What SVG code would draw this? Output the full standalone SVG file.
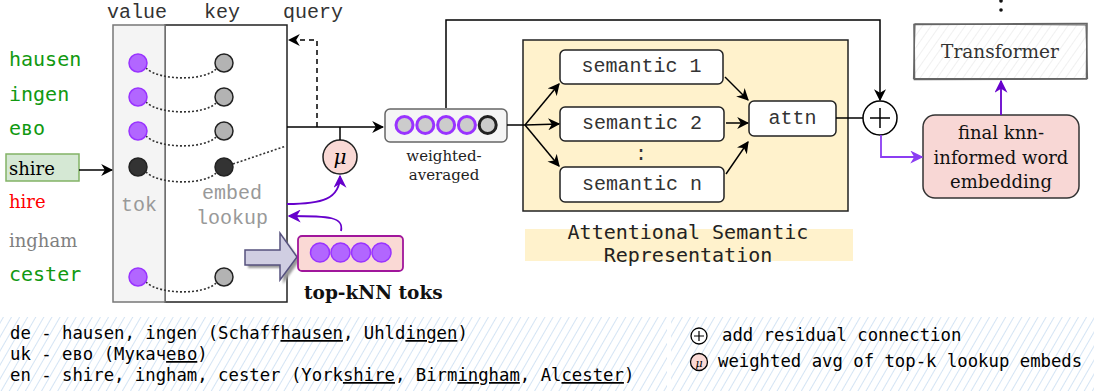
<svg xmlns="http://www.w3.org/2000/svg" width="1094" height="391" viewBox="0 0 1094 391">
  <style>
    .mono { font-family: "Liberation Mono", "Courier New", monospace; font-size: 20px; fill: #333; }
    .smono { font-family: "DejaVu Sans Mono", monospace; }
    .serif { font-family: "DejaVu Serif", serif; }
    .tok { font-family: "DejaVu Sans Mono", monospace; font-size: 20px; fill: #119911; }
    .vcirc { fill: #b266ff; stroke: #9933ff; stroke-width: 1.5; }
    .kcirc { fill: #b3b3b3; stroke: #222; stroke-width: 1.5; }
    .dark { fill: #333; stroke: #222; stroke-width: 1.5; }
    .dots { fill: none; stroke: #333; stroke-width: 1.6; stroke-dasharray: 2 2; }
    .ln { fill: none; stroke: #000; stroke-width: 1.5; }
    .pl { fill: none; stroke: #6600cc; stroke-width: 1.8; }
    .sem { fill: #fff; stroke: #222; stroke-width: 1.5; }
    .legend { font-family: "DejaVu Sans Mono", monospace; font-size: 17.3px; fill: #000; }
    .ul { text-decoration: underline; }
  </style>
  <defs>
    <marker id="ah" viewBox="0 0 10 10" refX="9" refY="5" markerWidth="12" markerHeight="12" markerUnits="userSpaceOnUse" orient="auto">
      <path d="M0,0 L10,5 L0,10 L3,5 z" fill="#000"/>
    </marker>
    <marker id="ahp" viewBox="0 0 10 10" refX="9" refY="5" markerWidth="13" markerHeight="13" markerUnits="userSpaceOnUse" orient="auto">
      <path d="M0,0 L10,5 L0,10 L3,5 z" fill="#6600cc"/>
    </marker>
    <marker id="ahv" viewBox="0 0 10 10" refX="9" refY="5" markerWidth="13" markerHeight="13" markerUnits="userSpaceOnUse" orient="auto">
      <path d="M0,0 L10,5 L0,10 L3,5 z" fill="#8b3df2"/>
    </marker>
    <pattern id="hatchBlue" width="7" height="7" patternUnits="userSpaceOnUse" patternTransform="rotate(30)">
      <line x1="0" y1="0" x2="0" y2="7" stroke="#bcd5ee" stroke-width="1.3"/>
    </pattern>
    <pattern id="hatchGray" width="7" height="7" patternUnits="userSpaceOnUse" patternTransform="rotate(35)">
      <line x1="0" y1="0" x2="0" y2="7" stroke="#e2e2e2" stroke-width="1"/>
    </pattern>
    <filter id="shadow" x="-20%" y="-20%" width="150%" height="150%">
      <feGaussianBlur stdDeviation="1"/>
    </filter>
  </defs>

  <!-- legend background -->
  <rect x="0" y="317" width="667" height="74" fill="url(#hatchBlue)"/>
  <rect x="671" y="317" width="423" height="74" fill="url(#hatchBlue)"/>

  <!-- subword tokens -->
  <g id="tokens">
    <text class="tok" x="9" y="66">hausen</text>
    <text class="tok" x="9" y="101">ingen</text>
    <text class="tok" x="9" y="135">ево</text>
    <g id="shire">
      <rect x="6" y="154" width="73" height="27" fill="#d5e8d4" stroke="#82b366" stroke-width="1.5"/>
      <text class="serif" x="9" y="175" font-size="18" fill="#000">shire</text>
    </g>
    <text class="serif" x="9" y="208" font-size="18" fill="#ff0000">hire</text>
    <text class="serif" x="9" y="247" font-size="18" fill="#808080">ingham</text>
    <text class="tok" x="9" y="281">cester</text>
  </g>

  <!-- key/value embedding table -->
  <g id="table">
    <rect x="165" y="25" width="122" height="277" fill="#fff" stroke="#222" stroke-width="1.5"/>
    <rect x="113" y="25" width="52" height="277" fill="#f4f4f4" stroke="#777" stroke-width="1.5"/>
    <text class="mono" x="107" y="18">value</text>
    <text class="mono" x="204" y="18">key</text>
    <text class="mono" x="283" y="18">query</text>
    <text class="mono" x="121" y="211" style="fill:#999">tok</text>
    <text class="mono" x="232" y="199" text-anchor="middle" style="fill:#999">embed</text>
    <text class="mono" x="232" y="224" text-anchor="middle" style="fill:#999">lookup</text>
    <path class="dots" d="M146,68 C159,81 205,81 216,69"/>
    <path class="dots" d="M146,102 C159,115 205,115 216,103"/>
    <path class="dots" d="M146,136 C159,149 205,149 216,137"/>
    <path class="dots" d="M146,172 C159,185 205,185 216,173"/>
    <path class="dots" d="M146,282 C159,295 205,295 216,283"/>
    <path class="dots" d="M233,164 L286,146"/>
    <circle class="vcirc" cx="138" cy="63" r="9"/>
    <circle class="vcirc" cx="138" cy="97" r="9"/>
    <circle class="vcirc" cx="138" cy="131" r="9"/>
    <circle class="dark" cx="138" cy="167" r="9"/>
    <circle class="vcirc" cx="138" cy="277" r="9"/>
    <circle class="kcirc" cx="224" cy="63" r="9"/>
    <circle class="kcirc" cx="224" cy="97" r="9"/>
    <circle class="kcirc" cx="224" cy="131" r="9"/>
    <circle class="dark" cx="224" cy="167" r="9"/>
    <circle class="kcirc" cx="224" cy="277" r="9"/>
  </g>

  <!-- block arrow feeding the nearest neighbours -->
  <g id="blockArrow">
    <path d="M248,254 L283,254 L283,237 L300,260 L283,284 L283,268 L248,268 z" fill="#999" filter="url(#shadow)"/>
    <path d="M245,250 L280,250 L280,233 L297,257 L280,280 L280,265 L245,265 z" fill="#d0cee2" stroke="#56517e" stroke-width="1.5"/>
  </g>

  <!-- top-kNN token embeddings -->
  <g id="topk">
    <rect x="298" y="236" width="105" height="35" rx="4" fill="#fad9d5" stroke="#a0169b" stroke-width="1.8"/>
    <circle class="vcirc" cx="320" cy="252.5" r="9.5"/>
    <circle class="vcirc" cx="340.5" cy="252.5" r="9.5"/>
    <circle class="vcirc" cx="361" cy="252.5" r="9.5"/>
    <circle class="vcirc" cx="381.5" cy="252.5" r="9.5"/>
    <text class="serif" x="304" y="299" font-size="18.5" font-weight="bold" fill="#111">top-kNN toks</text>
  </g>

  <!-- weighted average node -->
  <g id="mu">
    <circle cx="340" cy="157" r="17" fill="#fad9d5" stroke="#222" stroke-width="1.5"/>
    <text class="serif" x="340" y="164" font-size="20" font-style="italic" text-anchor="middle" fill="#000">μ</text>
  </g>

  <!-- weighted-averaged embedding -->
  <g id="weighted">
    <rect x="385" y="109" width="122" height="33" rx="5" fill="#f5f5f5" stroke="#666" stroke-width="1.5"/>
    <circle cx="404.5" cy="125" r="8.5" fill="#ccc" stroke="#9933ff" stroke-width="3"/>
    <circle cx="425.3" cy="125" r="8.5" fill="#ccc" stroke="#9933ff" stroke-width="3"/>
    <circle cx="446.1" cy="125" r="8.5" fill="#ccc" stroke="#9933ff" stroke-width="3"/>
    <circle cx="466.9" cy="125" r="8.5" fill="#ccc" stroke="#9933ff" stroke-width="3"/>
    <circle cx="487.7" cy="125" r="8.5" fill="#ccc" stroke="#222" stroke-width="3"/>
    <text class="serif" x="444" y="161" font-size="15" text-anchor="middle" fill="#222">weighted-</text>
    <text class="serif" x="444" y="180" font-size="15" text-anchor="middle" fill="#222">averaged</text>
  </g>

  <!-- attentional semantic representation -->
  <g id="asr">
    <rect x="523" y="40" width="325" height="171" fill="#fff2cc" stroke="#222" stroke-width="1.5"/>
    <rect x="525" y="229" width="328" height="32" fill="#fff2cc"/>
    <text class="smono" x="688" y="239" font-size="20" text-anchor="middle" fill="#222">Attentional Semantic</text>
    <text class="smono" x="688" y="262" font-size="20" text-anchor="middle" fill="#222">Representation</text>
  </g>
  <g id="semantic1">
    <rect class="sem" x="560" y="50" width="163" height="34" rx="5"/>
    <text class="mono" x="641.5" y="72" text-anchor="middle">semantic 1</text>
  </g>
  <g id="semantic2">
    <rect class="sem" x="560" y="107" width="164" height="34" rx="5"/>
    <text class="mono" x="642" y="129" text-anchor="middle">semantic 2</text>
  </g>
  <g id="semanticDots">
    <text class="mono" x="641" y="160" text-anchor="middle">:</text>
  </g>
  <g id="semanticN">
    <rect class="sem" x="560" y="167" width="164" height="35" rx="5"/>
    <text class="mono" x="642" y="190" text-anchor="middle">semantic n</text>
  </g>
  <g id="attn">
    <rect class="sem" x="749" y="101" width="87" height="35" rx="5"/>
    <text class="mono" x="792.5" y="124" text-anchor="middle">attn</text>
  </g>

  <!-- residual add -->
  <g id="add">
    <circle cx="880" cy="118" r="17" fill="#fff" stroke="#000" stroke-width="1.5"/>
    <path d="M870,118 H890 M880,108 V128" stroke="#000" stroke-width="1.5"/>
  </g>

  <!-- output embedding and transformer -->
  <g id="final">
    <rect x="923" y="115" width="156" height="83" rx="12" fill="#f8d7d5" stroke="#333" stroke-width="1.5"/>
    <text class="serif" x="1001" y="139" font-size="18" text-anchor="middle" fill="#111">final knn-</text>
    <text class="serif" x="1001" y="164" font-size="18" text-anchor="middle" fill="#111">informed word</text>
    <text class="serif" x="1001" y="188" font-size="18" text-anchor="middle" fill="#111">embedding</text>
  </g>
  <g id="transformer">
    <rect x="914" y="24" width="173" height="55" fill="url(#hatchGray)"/>
    <path d="M914,24.5 L1087,23.5 L1086.5,79 L914.5,79.5 z" fill="none" stroke="#666" stroke-width="1.6"/>
    <path d="M915,23.8 L1086,25 L1087.5,78.5 L913.5,78.6 z" fill="none" stroke="#666" stroke-width="1.2"/>
    <text class="serif" x="1000" y="58" font-size="18.5" text-anchor="middle" fill="#333">Transformer</text>
    <circle cx="1001" cy="1" r="1.8" fill="#111"/>
    <circle cx="1001" cy="10" r="1.8" fill="#111"/>
  </g>

  <!-- connectors -->
  <g id="connectors">
    <line class="ln" x1="79" y1="170" x2="112" y2="170" marker-end="url(#ah)"/>
    <line class="ln" x1="287" y1="127" x2="383" y2="127" marker-end="url(#ah)"/>
    <path class="ln" d="M317,127 V40 H289" stroke-dasharray="5 4" marker-end="url(#ah)"/>
    <line class="ln" x1="340" y1="127" x2="340" y2="140"/>
    <path class="pl" d="M287,204 C322,204 340,199 340,176" marker-end="url(#ahp)"/>
    <path class="pl" d="M341,231 C344,217 330,216 289,216" marker-end="url(#ahp)"/>
    <line class="ln" x1="507" y1="125" x2="525" y2="125"/>
    <line class="ln" x1="525" y1="125" x2="559" y2="84" marker-end="url(#ah)"/>
    <line class="ln" x1="525" y1="125" x2="559" y2="124" marker-end="url(#ah)"/>
    <line class="ln" x1="525" y1="125" x2="559" y2="166" marker-end="url(#ah)"/>
    <line class="ln" x1="725" y1="77" x2="748" y2="100" marker-end="url(#ah)"/>
    <line class="ln" x1="726" y1="123" x2="748" y2="123" marker-end="url(#ah)"/>
    <line class="ln" x1="726" y1="174" x2="748" y2="142" marker-end="url(#ah)"/>
    <line class="ln" x1="836" y1="118" x2="863" y2="118"/>
    <path class="ln" d="M446,108 V20 H880 V100" marker-end="url(#ah)"/>
    <path d="M881,135 V157 H922" fill="none" stroke="#8b3df2" stroke-width="1.8" marker-end="url(#ahv)"/>
    <line class="pl" x1="1001" y1="115" x2="1001" y2="81" marker-end="url(#ahp)"/>
  </g>

  <!-- legend -->
  <g id="legend">
    <text class="legend" x="10" y="339">de - hausen, ingen (Schaff<tspan class="ul">hausen</tspan>, Uhld<tspan class="ul">ingen</tspan>)</text>
    <text class="legend" x="10" y="360">uk - ево (Мукач<tspan class="ul">ево</tspan>)</text>
    <text class="legend" x="10" y="381">en - shire, ingham, cester (York<tspan class="ul">shire</tspan>, Birm<tspan class="ul">ingham</tspan>, Al<tspan class="ul">cester</tspan>)</text>
    <circle cx="699" cy="336" r="8" fill="#fff" stroke="#000" stroke-width="1.3"/>
    <path d="M694,336 H704 M699,331 V341" stroke="#000" stroke-width="1.2"/>
    <text class="legend" x="722" y="341">add residual connection</text>
    <circle cx="699" cy="362" r="8.5" fill="#fad9d5" stroke="#000" stroke-width="1.3"/>
    <text class="serif" x="699" y="366.5" font-size="11" font-style="italic" text-anchor="middle" fill="#000">μ</text>
    <text class="legend" x="718" y="367">weighted avg of top-k lookup embeds</text>
  </g>
</svg>
